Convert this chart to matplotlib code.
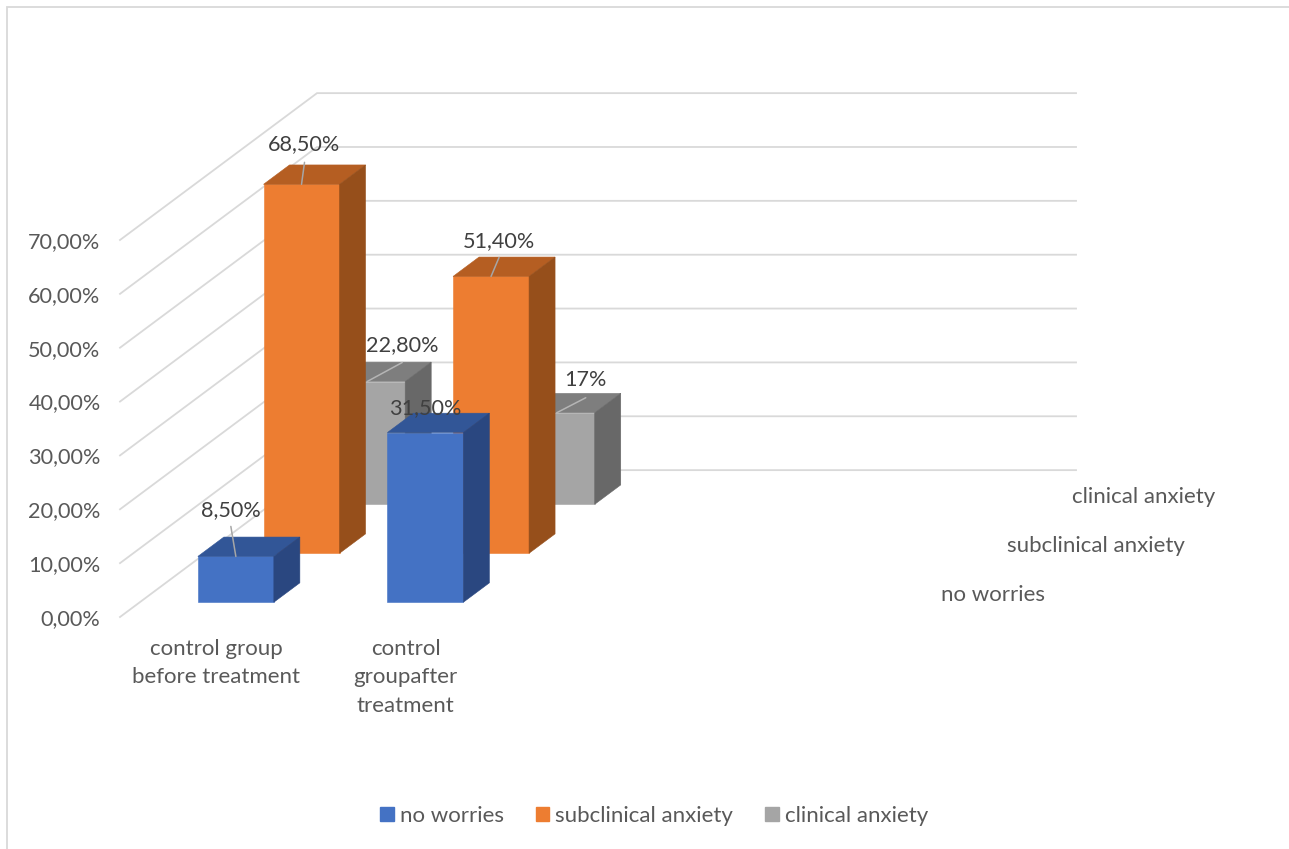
import matplotlib
matplotlib.use("Agg")
import matplotlib.pyplot as plt
from matplotlib.patches import Patch, Polygon, Rectangle

plt.rcParams['font.family'] = ['Lato', 'DejaVu Sans']

# ---- data ----
categories = ["control group\nbefore treatment", "control\ngroupafter\ntreatment"]
series_names = ["no worries", "subclinical anxiety", "clinical anxiety"]
no_worries = [8.5, 31.5]
subclinical = [68.5, 51.4]
clinical = [22.8, 17.0]
value_labels_no_worries = ["8,50%", "31,50%"]
value_labels_subclinical = ["68,50%", "51,40%"]
value_labels_clinical = ["22,80%", "17%"]
y_ticks = [0, 10, 20, 30, 40, 50, 60, 70]
y_tick_labels = ["0,00%", "10,00%", "20,00%", "30,00%", "40,00%", "50,00%", "60,00%", "70,00%"]

# ---- style ----
W, H = 1289, 849
FACE = ["#4472C4", "#ED7D31", "#A5A5A5"]
TOP = ["#325697", "#B55E22", "#7E7E7E"]
SIDE = ["#2A4780", "#964F1B", "#686868"]
GRID = "#D9D9D9"
FS = 16
FS_NUM = 15.6

fig = plt.figure(figsize=(W / 100, H / 100), dpi=100, facecolor="white")
# front plane of the 3D box: x in category units, y in percent
ax = fig.add_axes([120 / W, (H - 617) / H, 759 / W, 377 / H])
ax.set_xlim(-0.5066, 3.498)
ax.set_ylim(0, 70)
ax.patch.set_visible(False)
for s in ax.spines.values():
    s.set_visible(False)

DX = 0.3465   # category units per series row in depth
DY = 9.09     # percent units per series row in depth
N = len(series_names)
BAR_W = 0.401
BAR_D = 0.396
GAP = 0.302


def proj(x, v, d):
    """oblique projection: value v at depth d (in series rows)"""
    return x + d * DX, v + d * DY


# gridlines: left wall and back wall
for t in y_ticks:
    x0, y0 = proj(-0.5066, t, 0)
    x1, y1 = proj(-0.5066, t, N)
    x2, y2 = proj(3.498, t, N)
    ax.plot([x0, x1, x2], [y0, y1, y2], color=GRID, lw=1.3, zorder=1,
            clip_on=False, solid_joinstyle="miter")

rows = [no_worries, subclinical, clinical]
texts = [value_labels_no_worries, value_labels_subclinical, value_labels_clinical]
# label offsets from the bar's front-top centre, in pixels (x right, y up)
label_off = [[(-5, 46), (0, 24)], [(2, 40), (8, 35)], [(35, 36), (29, 33)]]
leader_off = [[(-5, 30), None], [(3, 22), (8, 19)], [(35, 19), (29, 15)]]
leader_col = ["#A6A6A6", "#A6A6A6", "#B5B5B5"]

for row in [2, 1, 0]:
    vals = rows[row]
    d0 = row + GAP
    d1 = d0 + BAR_D
    for i, v in enumerate(vals):
        zo = 3 + (N - row) * 2 + i * 0.1
        xl, xr = i - BAR_W / 2, i + BAR_W / 2
        xf, yb = proj(i, 0, d0)
        ax.bar(xf, v, BAR_W, bottom=yb, color=FACE[row], edgecolor=FACE[row], lw=0.4,
               zorder=zo, clip_on=False)
        ax.add_patch(Polygon([proj(xl, v, d0), proj(xr, v, d0), proj(xr, v, d1), proj(xl, v, d1)],
                             closed=True, fc=TOP[row], ec=TOP[row], lw=0.4, zorder=zo, clip_on=False))
        ax.add_patch(Polygon([proj(xr, 0, d0), proj(xr, v, d0), proj(xr, v, d1), proj(xr, 0, d1)],
                             closed=True, fc=SIDE[row], ec=SIDE[row], lw=0.4, zorder=zo, clip_on=False))
        top_pt = proj(i, v, d0)
        if leader_off[row][i] is not None:
            ax.annotate("", xy=top_pt, xytext=leader_off[row][i], textcoords="offset pixels",
                        arrowprops=dict(arrowstyle="-", color=leader_col[row], lw=1.1,
                                        shrinkA=0, shrinkB=0),
                        zorder=zo + 0.05, annotation_clip=False)
        ax.annotate(texts[row][i], xy=top_pt, xytext=label_off[row][i], textcoords="offset pixels",
                    ha="center", va="center", fontsize=FS_NUM, color="#404040", zorder=20,
                    annotation_clip=False)

# axis labels
ax.set_yticks(y_ticks)
ax.set_yticklabels(y_tick_labels, fontsize=FS_NUM, color="#595959")
ax.set_xticks(range(len(categories)))
ax.set_xticklabels(categories, fontsize=FS, color="#595959", linespacing=1.56, va="top")
ax.tick_params(axis="y", length=0, pad=14)
ax.tick_params(axis="x", length=0, pad=15.5)

# depth-axis labels, left-aligned to the right of the floor edge
for row, name in enumerate(series_names):
    px, py = proj(3.498, 0, row + 0.5)
    ax.annotate(name, xy=(px, py), xytext=(29, -2), textcoords="offset pixels",
                ha="left", va="center", fontsize=FS, color="#595959", annotation_clip=False)

# legend
handles = [Patch(fc=c, ec=c, label=n) for c, n in zip(FACE, series_names)]
fig.legend(handles=handles, loc="center", bbox_to_anchor=(654 / W, (H - 816) / H), ncol=3,
           frameon=False, fontsize=FS, labelcolor="#595959", handlelength=0.62, handleheight=0.62,
           handletextpad=0.27, columnspacing=1.42)

# chart-area border (top and left edges are inside the crop)
fig.add_artist(Rectangle((6.5 / W, -0.01), 1.1, (H - 6.5) / H + 0.01, fill=False, ec=GRID, lw=1.3,
                         transform=fig.transFigure))

fig.savefig("out.png", dpi=100, facecolor="white")
